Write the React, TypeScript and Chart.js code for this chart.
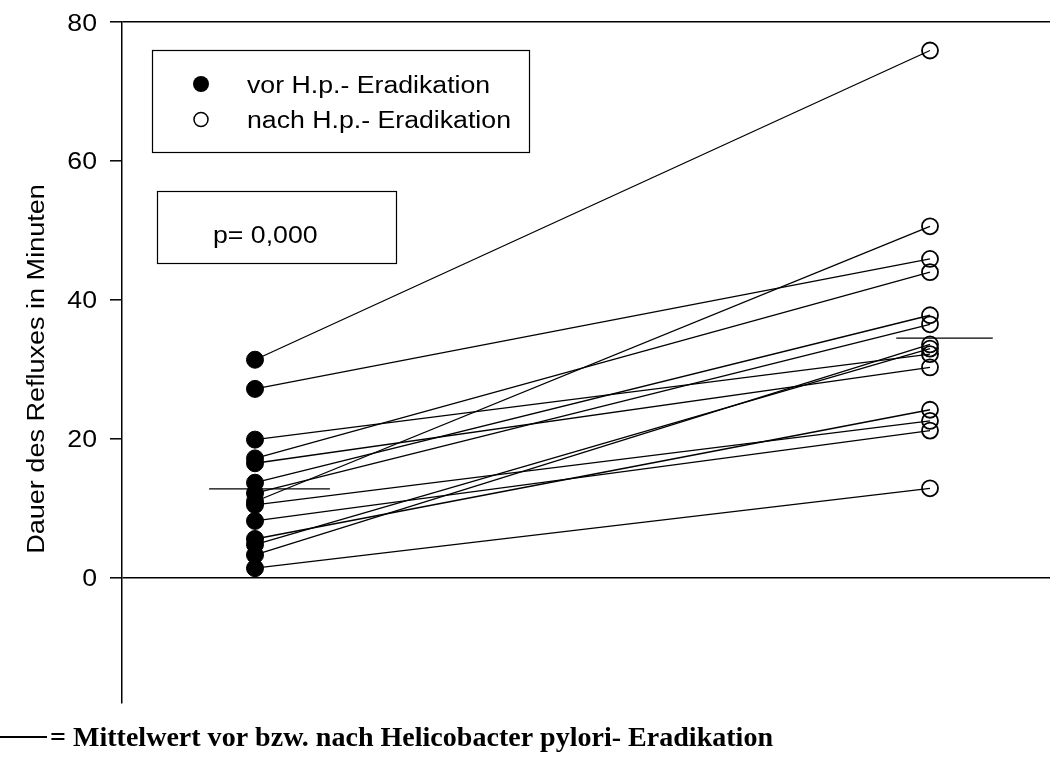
import React, { useEffect, useRef } from "react";
import { Chart, registerables } from "chart.js";

Chart.register(...registerables);

// Gruppen (vor / nach Eradikation) und ihre Position auf der x-Achse
const gruppen = ["vor H.p.- Eradikation", "nach H.p.- Eradikation"];
const gruppenX = [1, 2];

// Refluxdauer je Patient (Minuten), paarweise vor und nach Eradikation
const vorWerte = [31.4, 27.2, 19.9, 17.2, 16.5, 13.7, 12.2, 11.0, 10.5, 8.2, 5.6, 4.8, 3.3, 1.4];
const nachWerte = [75.9, 45.9, 32.2, 44.0, 30.3, 37.8, 36.5, 50.6, 22.6, 21.2, 24.2, 33.0, 33.6, 12.9];

// Mittelwerte vor bzw. nach Eradikation
const mittelwerte = [12.8, 34.5];

const yTicks = [0, 20, 40, 60, 80];
const yTitel = "Dauer des Refluxes in Minuten";
const pText = "p= 0,000";
const legende = "= Mittelwert vor bzw. nach Helicobacter pylori- Eradikation";

const SANS = "'Liberation Sans', Arial, sans-serif";
const SERIF = "'Liberation Serif', 'Times New Roman', serif";
const BREITE = 1.16; // horizontale Streckung der Schrift

function streckText(
  ctx: CanvasRenderingContext2D,
  text: string,
  x: number,
  y: number,
  sx: number,
  align: CanvasTextAlign
) {
  ctx.save();
  ctx.translate(x, y);
  ctx.scale(sx, 1);
  ctx.textAlign = align;
  ctx.fillText(text, 0, 0);
  ctx.restore();
}

// Zusatzbeschriftung: Achsenzahlen, Legendenkasten, p-Wert, Achsentitel, Fußnote
const annotationPlugin = {
  id: "annotations",
  afterDraw(chart: any) {
    const ctx = chart.ctx as CanvasRenderingContext2D;
    const yScale = chart.scales.y;
    ctx.save();
    ctx.strokeStyle = "#000";
    ctx.fillStyle = "#000";
    ctx.font = `23px ${SANS}`;
    ctx.textBaseline = "alphabetic";

    // Zahlen an der y-Achse
    yTicks.forEach((v) => {
      const py = yScale.getPixelForValue(v);
      streckText(ctx, String(v), 97, py + 8.5, BREITE, "right");
    });

    // Legendenkasten
    ctx.lineWidth = 1.2;
    ctx.strokeRect(152.5, 50.5, 377, 102);
    ctx.beginPath();
    ctx.arc(201, 84, 8, 0, Math.PI * 2);
    ctx.fill();
    ctx.beginPath();
    ctx.lineWidth = 1.5;
    ctx.arc(201, 119.5, 7, 0, Math.PI * 2);
    ctx.stroke();
    streckText(ctx, gruppen[0], 247, 93, BREITE, "left");
    streckText(ctx, gruppen[1], 247, 128, BREITE, "left");

    // p-Wert
    ctx.lineWidth = 1.2;
    ctx.strokeRect(157.5, 191.5, 239, 72);
    streckText(ctx, pText, 213, 243, BREITE, "left");

    // y-Achsentitel
    ctx.save();
    ctx.translate(38, 369);
    ctx.rotate(-Math.PI / 2);
    ctx.scale(1.175, 1);
    ctx.textAlign = "center";
    ctx.textBaseline = "middle";
    ctx.fillText(yTitel, 0, 0);
    ctx.restore();

    // Fußnote mit Linienmuster
    ctx.lineWidth = 2;
    ctx.beginPath();
    ctx.moveTo(0, 737);
    ctx.lineTo(47, 737);
    ctx.stroke();
    ctx.font = `bold 27px ${SERIF}`;
    const w = ctx.measureText(legende).width;
    streckText(ctx, legende, 50, 746, 723 / w, "left");
    ctx.restore();
  },
};

export default function App() {
  const ref = useRef<HTMLCanvasElement | null>(null);

  useEffect(() => {
    if (!ref.current) return;

    const paarDatensaetze = vorWerte.map((v, i) => ({
      type: "line" as const,
      data: [
        { x: gruppenX[0], y: v },
        { x: gruppenX[1], y: nachWerte[i] },
      ],
      borderColor: "#000",
      borderWidth: 1.3,
      pointRadius: 0,
      fill: false,
      order: 2,
    }));

    const mittelSpannen = [
      [gruppenX[0] - 0.068, gruppenX[0] + 0.111],
      [gruppenX[1] - 0.05, gruppenX[1] + 0.093],
    ];
    const mittelDatensaetze = mittelwerte.map((m, i) => ({
      type: "line" as const,
      data: mittelSpannen[i].map((x) => ({ x, y: m })),
      borderColor: "#000",
      borderWidth: 1.3,
      pointRadius: 0,
      fill: false,
      order: 3,
    }));

    const chart = new Chart(ref.current, {
      type: "scatter",
      data: {
        datasets: [
          {
            label: gruppen[0],
            data: vorWerte.map((v) => ({ x: gruppenX[0], y: v })),
            pointRadius: 8.5,
            pointBackgroundColor: "#000",
            pointBorderColor: "#000",
            pointBorderWidth: 1,
            order: 0,
          },
          {
            label: gruppen[1],
            data: nachWerte.map((v) => ({ x: gruppenX[1], y: v })),
            pointRadius: 8,
            pointBackgroundColor: "rgba(0,0,0,0)",
            pointBorderColor: "#000",
            pointBorderWidth: 1.8,
            order: 1,
          },
          ...(paarDatensaetze as any[]),
          ...(mittelDatensaetze as any[]),
        ],
      },
      options: {
        responsive: false,
        animation: false,
        devicePixelRatio: 1,
        events: [],
        layout: { autoPadding: false, padding: { left: 0, right: 3, top: 22, bottom: 55 } },
        plugins: {
          legend: { display: false },
          tooltip: { enabled: false },
        },
        scales: {
          x: {
            type: "linear",
            display: false,
            min: 0.80296,
            max: 2.17778,
          },
          y: {
            type: "linear",
            min: -18,
            max: 80,
            afterBuildTicks: (s: any) => {
              s.ticks = yTicks.map((v) => ({ value: v }));
            },
            afterFit: (s: any) => {
              s.width = 122;
            },
            ticks: { display: false },
            grid: {
              color: (c: any) =>
                c.tick && (c.tick.value === 0 || c.tick.value === 80) ? "#000" : "rgba(0,0,0,0)",
              lineWidth: 1.6,
              tickColor: "#000",
              tickLength: 12,
              tickWidth: 1.5,
            },
            border: { display: true, color: "#000", width: 1.5 },
          },
        },
      },
      plugins: [annotationPlugin],
    });

    return () => chart.destroy();
  }, []);

  return (
    <canvas
      ref={ref}
      width={1053}
      height={758}
      style={{ position: "fixed", left: 0, top: 0, background: "#fff" }}
    />
  );
}
